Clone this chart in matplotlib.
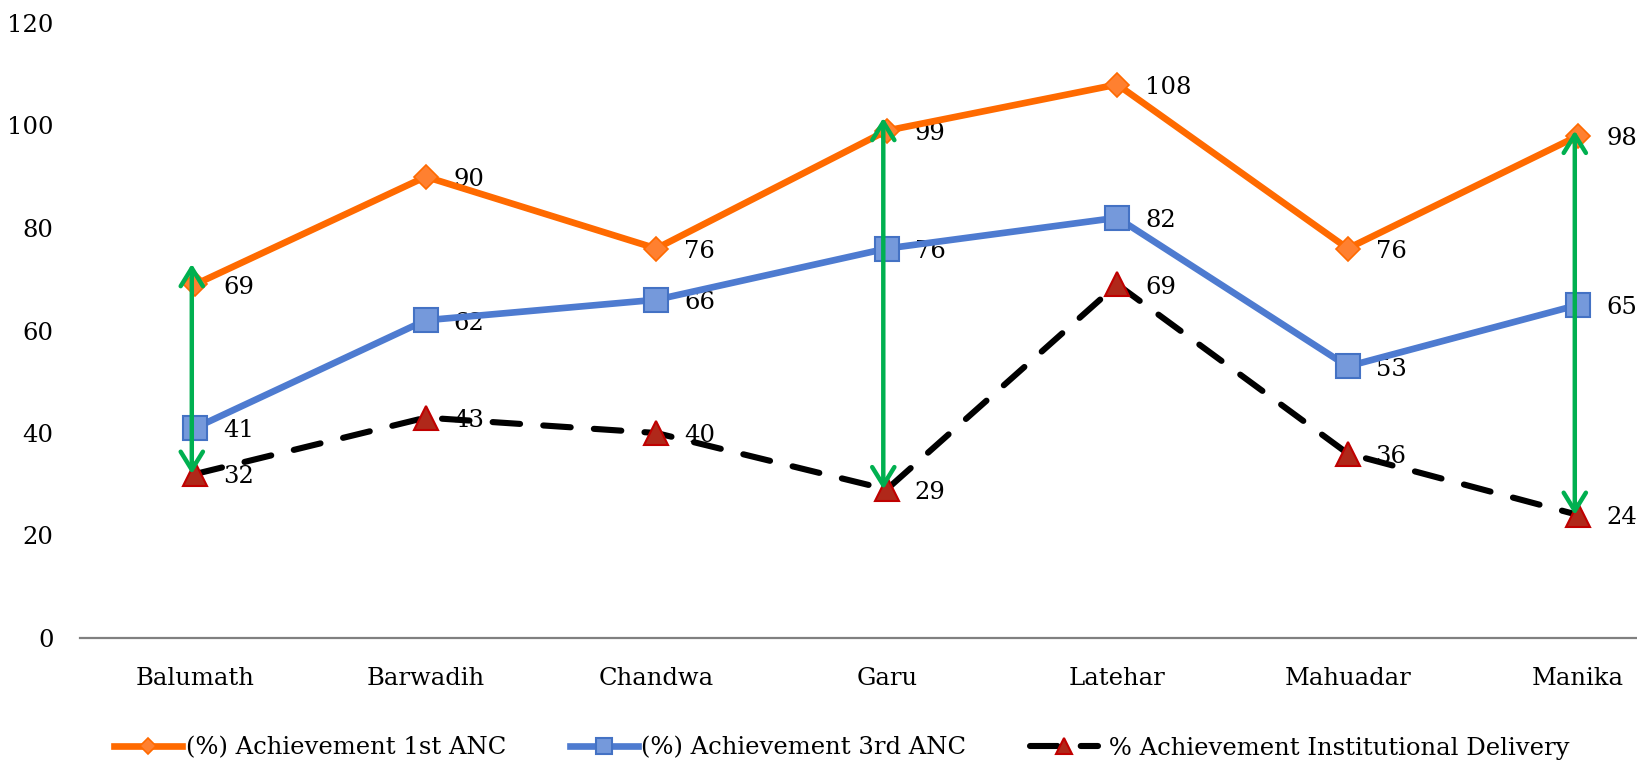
import matplotlib
matplotlib.use("Agg")
import matplotlib.pyplot as plt
from matplotlib.patches import FancyArrowPatch, ArrowStyle

plt.rcParams['font.family'] = ['DejaVu Serif']

categories = ["Balumath", "Barwadih", "Chandwa", "Garu", "Latehar", "Mahuadar", "Manika"]
anc1 = [69, 90, 76, 99, 108, 76, 98]
anc3 = [41, 62, 66, 76, 82, 53, 65]
inst = [32, 43, 40, 29, 69, 36, 24]
series_names = ["(%) Achievement 1st ANC", "(%) Achievement 3rd ANC", " % Achievement Institutional Delivery"]

# green gap arrows (category index, bottom, top)
arrow_idx = [0, 3, 6]
arrow_bottom = [32, 29, 24]
arrow_top = [73, 101.5, 99]

yticks = [0, 20, 40, 60, 80, 100, 120]

W, H, DPI = 1637, 762, 100
fig = plt.figure(figsize=(W / DPI, H / DPI), dpi=DPI)
ax = fig.add_axes([80 / W, 1 - 638 / H, 1613.5 / W, 615 / H])

x = list(range(len(categories)))
FS = 17.5

ax.plot(x, anc1, color="#FF6A00", lw=4.8, marker="D", ms=12, solid_joinstyle="round",
        mfc="#FF8030", mec="#FF6A00", mew=1.2, zorder=3, label=series_names[0])
ax.plot(x, anc3, color="#4E7BD0", lw=4.8, marker="s", ms=17, solid_joinstyle="round",
        mfc="#7599DB", mec="#4472C4", mew=1.5, zorder=4, label=series_names[1])
ax.plot(x, inst, color="black", lw=4.4, ls=(0, (4.5, 3.8)), dash_capstyle="round",
        marker="^", ms=17, mfc="#B0281A", mec="#C00000", mew=1.5, zorder=5,
        label=series_names[2])

for vals in (anc1, anc3, inst):
    for xi, v in zip(x, vals):
        ax.annotate(f"{v}", (xi, v), xytext=(20, -2), textcoords="offset points",
                    ha="left", va="center", fontsize=FS, color="black", zorder=2)

for i, b, t in zip(arrow_idx, arrow_bottom, arrow_top):
    arr = FancyArrowPatch((i - 0.015, b), (i - 0.015, t),
                          arrowstyle=ArrowStyle("<->", head_length=13, head_width=8),
                          mutation_scale=1, color="#00B050", lw=3.2,
                          shrinkA=0, shrinkB=0, zorder=6, capstyle="round",
                          joinstyle="round")
    ax.add_patch(arr)

ax.set_xlim(-0.5, 6.5)
ax.set_ylim(0, 120)
ax.set_yticks(yticks)
ax.set_xticks(x)
ax.set_xticklabels(categories)
ax.tick_params(axis="both", length=0, labelsize=FS)
ax.tick_params(axis="y", pad=19)
ax.tick_params(axis="x", pad=21)
for s in ("top", "right", "left"):
    ax.spines[s].set_visible(False)
ax.spines["bottom"].set_color("#808080")
ax.spines["bottom"].set_linewidth(1.6)
ax.spines["bottom"].set_zorder(1)

handles, labels = ax.get_legend_handles_labels()
leg = fig.legend(handles, labels, loc="center", bbox_to_anchor=(842 / W, 1 - 748 / H),
                 ncol=3, frameon=False, fontsize=FS, handlelength=2.8,
                 handletextpad=0.15, columnspacing=2.6, markerscale=0.7)

fig.savefig("out.png", dpi=DPI)
